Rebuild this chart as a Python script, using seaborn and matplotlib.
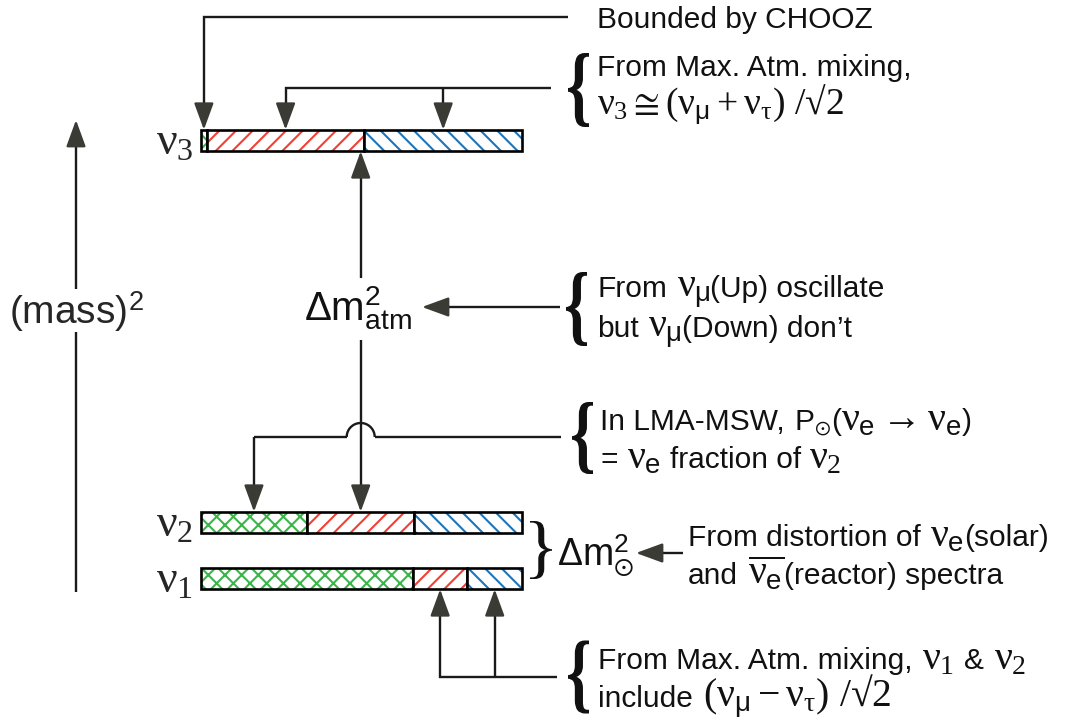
import numpy as np
import matplotlib
matplotlib.use("Agg")
import matplotlib.pyplot as plt
import seaborn as sns
from matplotlib.offsetbox import TextArea, HPacker, AnnotationBbox, DrawingArea
from matplotlib.textpath import TextPath
from matplotlib.font_manager import FontProperties
from matplotlib.patches import PathPatch
from matplotlib.transforms import Affine2D

# ---------------- data ----------------
states = ["nu3", "nu2", "nu1"]
state_labels = [r"$\nu_3$", r"$\nu_2$", r"$\nu_1$"]
flavours = ["e", "mu", "tau"]
nu3_frac = [0.018, 0.491, 0.491]
nu2_frac = [0.33, 0.335, 0.335]
nu1_frac = [0.66, 0.17, 0.17]

# ---------------- style ----------------
sns.set_theme(style="white")
plt.rcParams.update({
    "font.family": ["Liberation Sans", "DejaVu Sans"],
    "mathtext.fontset": "custom",
    "mathtext.rm": "Liberation Serif",
    "mathtext.it": "Liberation Serif",
    "mathtext.bf": "Liberation Serif:bold",
    "mathtext.sf": "Liberation Sans",
    "mathtext.fallback": "stix",
    "hatch.linewidth": 1.5,
})
flav_color = dict(zip(flavours, sns.color_palette(["#3bb54a", "#ef4136", "#1c75bc"])))
flav_hatch = {"e": "xx", "mu": "//", "tau": "\\\\"}
LINE = "#1a1a1a"
HEAD = "#393b34"
LW = 1.7
TS = 21.5   # body text size
MS = 28.5   # greek symbol size

fig = plt.figure(figsize=(10.68, 7.23), dpi=100)
ax = fig.add_axes([0, 0, 1, 1])
ax.set_xlim(0, 1068)
ax.set_ylim(723, 0)
ax.axis("off")

# layout (pixel space)
X0, SPAN, BAR_H = 201, 321, 21.5
row_y = {"nu3": 140.5, "nu2": 522.5, "nu1": 578.5}

centers = {}
for st, lab, fr in zip(states, state_labels, [nu3_frac, nu2_frac, nu1_frac]):
    widths = np.array(fr) * SPAN
    lefts = X0 + np.concatenate([[0], np.cumsum(widths)[:-1]])
    for f, w, l in zip(flavours, widths, lefts):
        ax.barh(row_y[st], w, left=l, height=BAR_H, color="white",
                edgecolor=flav_color[f], hatch=flav_hatch[f], linewidth=0)
        ax.barh(row_y[st], w, left=l, height=BAR_H, facecolor="none",
                edgecolor="black", linewidth=1.9)
    centers[st] = dict(zip(flavours, lefts + widths / 2))
    ax.text(193, row_y[st] + 2, lab, fontsize=33, ha="right", va="center")

top = {s: row_y[s] - BAR_H / 2 for s in states}
bot = {s: row_y[s] + BAR_H / 2 for s in states}


def line(xs, ys):
    ax.plot(xs, ys, color=LINE, lw=LW, solid_capstyle="butt", solid_joinstyle="miter")


def head(tip, d, L=23):
    tail = (tip[0] - d[0] * L, tip[1] - d[1] * L)
    ax.annotate("", xy=tip, xytext=tail,
                arrowprops=dict(arrowstyle="-|>,head_length=0.82,head_width=0.3",
                                color=HEAD, lw=LW, shrinkA=0, shrinkB=0,
                                mutation_scale=20))


def brace(x, ymid, w, h, ch="{", weight="normal"):
    tp = TextPath((0, 0), ch, size=1, prop=FontProperties(family="Liberation Serif", weight=weight))
    e = tp.get_extents()
    tr = (Affine2D().translate(-e.x0, -(e.y0 + e.y1) / 2)
          .scale(w / e.width, -h / e.height).translate(x, ymid))
    ax.add_patch(PathPatch(tr.transform_path(tp), facecolor="#111111", lw=0))


def rich(x, y, parts):
    kids = []
    for p in parts:
        if isinstance(p, (int, float)):
            kids.append(DrawingArea(p, 0))
        else:
            s, size = p
            kids.append(TextArea(s, textprops=dict(fontsize=size, color="#111111")))
    pack = HPacker(children=kids, align="baseline", pad=0, sep=0)
    ab = AnnotationBbox(pack, (x, y), xycoords="data", box_alignment=(0, 0.5),
                        frameon=False, pad=0)
    ax.add_artist(ab)


SP = 7
# ---- (mass)^2 axis ----
line([76, 76], [592, 332])
line([76, 76], [289, 140])
head((76, 120), (0, -1))
ax.text(76, 312, r"(mass)$^{\mathsf{2}}$", fontsize=28, ha="center", va="center")

# ---- Bounded by CHOOZ ----
xc = centers["nu3"]["e"]
line([xc, xc, 568], [top["nu3"] - 22, 17, 17])
head((xc, top["nu3"]), (0, 1))
ax.text(597, 20, "Bounded by CHOOZ", fontsize=TS, ha="left", va="center", color="#111111")

# ---- Max atm mixing for nu3 ----
xm, xt = centers["nu3"]["mu"], centers["nu3"]["tau"]
line([xm, xm, 551], [top["nu3"] - 22, 88, 88])
line([xt, xt], [88, top["nu3"] - 22])
head((xm, top["nu3"]), (0, 1))
head((xt, top["nu3"]), (0, 1))
brace(568, 90, 21, 74, weight="bold")
rich(597, 68, [("From Max. Atm. mixing,", TS)])
rich(597, 105, [(r"$\nu_3 \cong (\nu_{\mathsf{\mu}} + \nu_\tau)\ /√2$", 27)])

# ---- central vertical (Delta m^2_atm) ----
xv = centers["nu2"]["mu"]
line([xv, xv], [bot["nu3"] + 20, 278])
head((xv, bot["nu3"]), (0, -1))
line([xv, xv], [340, top["nu2"] - 22])
head((xv, top["nu2"]), (0, 1))
ax.text(xv - 3, 321, r"$\mathsf{\Delta m}^{\mathsf{2}}_{\mathsf{atm}}$", fontsize=29,
        ha="center", va="baseline", color="#111111")
line([560, 445], [307, 307])
head((422, 307), (-1, 0))
brace(566, 309, 21, 74, weight="bold")
rich(597, 289, [("From", TS), SP, (r"$\nu_{\mathsf{\mu}}$", MS), ("(Up) oscillate", TS)])
rich(597, 329, [("but", TS), SP, (r"$\nu_{\mathsf{\mu}}$", MS), ("(Down) don’t", TS)])

# ---- LMA-MSW with hop ----
xg = centers["nu2"]["e"]
HY, R = 437, 14
line([xg, xg], [top["nu2"] - 22, HY])
line([xg, xv - R], [HY, HY])
t = np.linspace(np.pi, 0, 40)
line(xv + R * np.cos(t), HY - R * np.sin(t))
line([xv + R, 561], [HY, HY])
head((xg, top["nu2"]), (0, 1))
brace(572, 438, 21, 72, weight="bold")
rich(600, 419, [("In LMA-MSW,", TS), SP, (r"P$_{\odot}$", TS), ("(", TS),
                (r"$\nu_{\mathsf{e}} \rightarrow \nu_{\mathsf{e}}$", MS), (")", TS)])
rich(600, 457, [("=", TS), SP, (r"$\nu_{\mathsf{e}}$", MS), 6, ("fraction of", TS), 6,
                (r"$\nu_2$", MS)])

# ---- Delta m^2_sun ----
brace(530, 550, 22, 58, ch="}", weight="normal")
ax.text(557, 566, r"$\mathsf{\Delta m}^{\mathsf{2}}_{\odot}$", fontsize=27,
        ha="left", va="baseline", color="#111111")
line([683, 655], [553, 553])
head((636, 553), (-1, 0))
rich(688, 535, [("From distortion of", TS), SP, (r"$\nu_{\mathsf{e}}$", MS), ("(solar)", TS)])
rich(688, 573, [("and", TS), SP, (r"$\overline{\nu_{\mathsf{e}}}$", MS), ("(reactor) spectra", TS)])

# ---- bottom: max atm mixing for nu1, nu2 ----
xr, xb = centers["nu1"]["mu"], centers["nu1"]["tau"]
line([xr, xr, 557], [bot["nu1"] + 22, 677, 677])
line([xb, xb], [677, bot["nu1"] + 22])
head((xr, bot["nu1"]), (0, -1))
head((xb, bot["nu1"]), (0, -1))
brace(568, 677, 21, 73, weight="bold")
rich(598, 658, [("From Max. Atm. mixing,", TS), SP, (r"$\nu_1$", MS), SP, ("&", TS), SP,
                (r"$\nu_2$", MS)])
rich(598, 697, [("include", TS), SP, (r"$(\nu_{\mathsf{\mu}} - \nu_\tau)\ /√2$", MS)])

fig.savefig("out.png", dpi=100, facecolor="white")
